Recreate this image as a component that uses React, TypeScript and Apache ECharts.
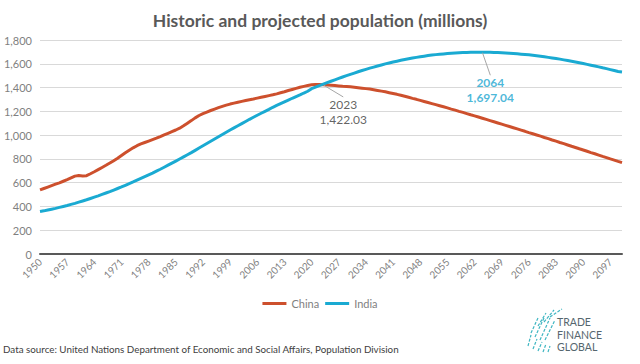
import React, { useEffect, useRef } from "react";
import * as echarts from "echarts";

const years: string[] = [];
for (let y = 1950; y <= 2100; y++) years.push(String(y));

const chinaValues = [
  539, 551, 563, 575, 587, 599, 612, 625, 640, 655,
  660, 657, 659, 675, 692, 710, 728, 746, 765, 785,
  806, 829, 852, 873, 893, 911, 926, 938, 950, 962,
  974, 987, 1001, 1015, 1029, 1043, 1058, 1078, 1100, 1122,
  1145, 1165, 1180, 1194, 1207, 1219, 1231, 1242, 1252, 1261,
  1269, 1277, 1284, 1291, 1298, 1304, 1311, 1318, 1325, 1332,
  1339, 1347, 1356, 1365, 1375, 1384, 1393, 1402, 1410, 1417,
  1423, 1426, 1426, 1424, 1422, 1420, 1417, 1414, 1411, 1409,
  1406, 1403, 1399, 1395, 1391, 1387, 1382, 1376, 1370, 1364,
  1357, 1350, 1343, 1335, 1327, 1318, 1309, 1301, 1292, 1283,
  1274, 1265, 1256, 1247, 1238, 1229, 1219, 1210, 1200, 1191,
  1181, 1171, 1162, 1152, 1142, 1132, 1122, 1112, 1102, 1092,
  1082, 1072, 1062, 1052, 1042, 1032, 1021, 1011, 1001, 991,
  980, 970, 959, 949, 938, 928, 917, 906, 896, 885,
  875, 864, 853, 843, 832, 821, 811, 800, 790, 779,
  769,
];

const indiaValues = [
  357, 363, 370, 377, 384, 392, 400, 408, 417, 426,
  436, 446, 456, 467, 478, 489, 501, 513, 525, 538,
  551, 564, 578, 592, 606, 621, 636, 651, 666, 681,
  697, 713, 730, 747, 764, 781, 799, 817, 835, 853,
  872, 891, 910, 929, 948, 967, 986, 1005, 1024, 1043,
  1061, 1079, 1097, 1115, 1133, 1150, 1167, 1184, 1200, 1216,
  1234, 1250, 1265, 1280, 1295, 1310, 1324, 1338, 1354, 1369,
  1390, 1404, 1417, 1429, 1441, 1453, 1465, 1477, 1489, 1500,
  1511, 1522, 1533, 1543, 1553, 1563, 1572, 1581, 1590, 1599,
  1607, 1615, 1622, 1629, 1636, 1642, 1648, 1654, 1659, 1664,
  1669, 1673, 1677, 1680, 1683, 1686, 1689, 1691, 1693, 1694,
  1695, 1696, 1697, 1697, 1697.04, 1697, 1696, 1695, 1694, 1693,
  1691, 1689, 1687, 1684, 1681, 1678, 1675, 1671, 1667, 1663,
  1659, 1654, 1649, 1644, 1639, 1633, 1627, 1621, 1615, 1609,
  1602, 1595, 1588, 1581, 1574, 1566, 1559, 1551, 1543, 1535,
  1531,
];

const annotYears = ["2023", "2064"];
const annotValues = [1422.03, 1697.04];

const FONT = "Lato, 'Open Sans', sans-serif";

export default function App() {
  const ref = useRef<HTMLDivElement>(null);
  useEffect(() => {
    if (!ref.current) return;
    const chart = echarts.init(ref.current, null, { renderer: "svg" });
    const fmt = (v: number) =>
      v.toLocaleString("en-US", { minimumFractionDigits: 0, maximumFractionDigits: 2 });
    const annotData = annotYears.map((y, i) => ({
      value: [y, annotValues[i]],
      label: {
        color: i === 0 ? "#3a3a3a" : "#1ba6cf",
        fontWeight: i === 0 ? "normal" : "bold",
      },
    }));
    const logoLines: any[] = [];
    const streaks = [
      [531, 333, 538, 318], [535, 337, 544, 318], [540, 340, 550, 318],
      [545, 340, 555, 320], [528, 346, 531, 335], [533, 349, 537, 339],
      [538, 351, 542, 342], [543, 352, 546, 344], [548, 352, 550, 346],
      [538, 326, 546, 313], [544, 322, 554, 310], [550, 317, 562, 309],
    ];
    streaks.forEach((s) =>
      logoLines.push({
        type: "line",
        shape: { x1: s[0], y1: s[1], x2: s[2], y2: s[3] },
        style: { stroke: "#3fb6c2", lineWidth: 1.2, lineDash: [3, 1.5] },
      })
    );
    chart.setOption({
      animation: false,
      textStyle: { fontFamily: FONT },
      title: {
        text: "Historic and projected population (millions)",
        left: "center",
        top: 6,
        textStyle: { fontSize: 17.5, fontWeight: "bold", color: "#595959", fontFamily: FONT },
      },
      grid: { left: 40, right: 18, top: 40, bottom: 110 },
      legend: {
        data: ["China", "India"],
        top: 293,
        left: "center",
        icon: "rect",
        itemWidth: 24,
        itemHeight: 3,
        itemGap: 6,
        textStyle: { color: "#7f7f7f", fontSize: 11, fontFamily: FONT },
      },
      xAxis: {
        type: "category",
        data: years,
        boundaryGap: false,
        axisLine: { lineStyle: { color: "#595959", width: 2 } },
        axisTick: { show: false },
        axisLabel: {
          interval: 6,
          rotate: 45,
          color: "#7f7f7f",
          fontSize: 10,
          margin: 6,
          fontFamily: FONT,
        },
        splitLine: { show: false },
      },
      yAxis: {
        type: "value",
        min: 0,
        max: 1800,
        interval: 200,
        axisLine: { show: false },
        axisTick: { show: false },
        axisLabel: {
          color: "#7f7f7f",
          fontSize: 11,
          margin: 8,
          fontFamily: FONT,
          formatter: (v: number) => fmt(v),
        },
        splitLine: { lineStyle: { color: "#d9d9d9", width: 1 } },
      },
      series: [
        {
          name: "China",
          type: "line",
          data: chinaValues,
          showSymbol: false,
          lineStyle: { color: "#cd502d", width: 3 },
          itemStyle: { color: "#cd502d" },
        },
        {
          name: "India",
          type: "line",
          data: indiaValues,
          showSymbol: false,
          lineStyle: { color: "#1aaad2", width: 3 },
          itemStyle: { color: "#1aaad2" },
        },
        {
          name: "annot",
          type: "scatter",
          data: annotData,
          symbolSize: 1,
          itemStyle: { color: "rgba(0,0,0,0)" },
          z: 5,
          label: {
            show: true,
            position: "inside",
            fontSize: 12,
            lineHeight: 15,
            align: "center",
            fontFamily: FONT,
            formatter: (p: any) => p.value[0] + "\n" + fmt(p.value[1]),
          },
          labelLine: { show: true, lineStyle: { color: "#a6a6a6", width: 1 } },
          labelLayout: (p: any) =>
            p.dataIndex === 0 ? { dx: 20, dy: 27 } : { dx: 8, dy: 38 },
        },
      ],
      graphic: [
        {
          type: "text",
          left: 3,
          top: 344,
          style: {
            text: "Data source: United Nations Department of Economic and Social Affairs, Population Division",
            fill: "#404040",
            fontSize: 9.8,
            fontFamily: FONT,
          },
        },
        {
          type: "text",
          left: 557,
          top: 316,
          style: {
            text: "TRADE\nFINANCE\nGLOBAL",
            fill: "#55666e",
            fontSize: 10.5,
            lineHeight: 12.5,
            fontFamily: FONT,
          },
        },
        ...logoLines,
      ],
    });
    return () => chart.dispose();
  }, []);
  return (
    <div
      ref={ref}
      style={{ position: "absolute", left: 0, top: 0, width: 640, height: 364 }}
    />
  );
}
